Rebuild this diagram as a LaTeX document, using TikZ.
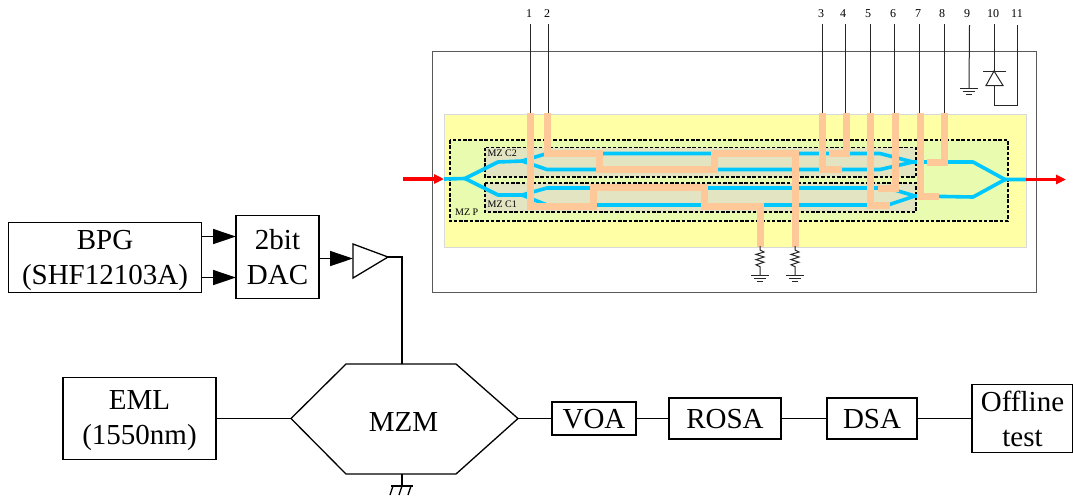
\documentclass[tikz,border=0pt]{standalone}
\usepackage{fontspec}
\setmainfont{Liberation Serif}
\usetikzlibrary{arrows.meta}
\definecolor{wgblue}{HTML}{00C8FF}
\definecolor{elec}{HTML}{FFC899}
\definecolor{chipy}{HTML}{FFFFA6}
\definecolor{mzp}{HTML}{E9FBAF}
\definecolor{mzc}{HTML}{E3E4C2}
\tikzset{
  blockbox/.style={draw=black,line width=1.3pt,fill=white,inner sep=0pt,align=center,font=\fontsize{29}{35}\selectfont},
  wire/.style={draw=black,line width=1.3pt},
  feed/.style={-{Triangle[length=23pt,width=15pt]},line width=1.3pt},
  guide/.style={draw=wgblue,line width=3.6pt,line join=round},
  electrode/.style={draw=elec,line width=7pt,line join=miter},
  pin/.style={draw=black!85,line width=1pt},
  pinlabel/.style={font=\fontsize{12}{14}\selectfont,inner sep=0pt},
  dashedbox/.style={draw=black,line width=1.2pt,dash pattern=on 3.5pt off 1.8pt},
  tag/.style={font=\fontsize{10}{12}\selectfont,inner sep=0pt,anchor=west}
}
\newcommand{\dn}[2]{\raisebox{-#1pt}[\height][\depth]{#2}}
\newcommand{\gnd}[1]{%
  \draw[pin] ([xshift=-9pt]#1) -- ([xshift=9pt]#1);
  \draw[pin] ([xshift=-6pt,yshift=-3pt]#1) -- ([xshift=6pt,yshift=-3pt]#1);
  \draw[pin] ([xshift=-3pt,yshift=-6pt]#1) -- ([xshift=3pt,yshift=-6pt]#1);}
\newcommand{\rgnd}[2]{%
  \coordinate (r#1) at (#2,-250);
  \coordinate (g#1) at (#2,-275);
  \draw[pin] (#2,-246) -- (r#1) -- ++(4,-2) -- ++(-8,-2.4) -- ++(8,-2.6) -- ++(-8,-2.6) -- ++(8,-2.6) -- ++(-8,-2.6) -- ++(4,-2) -- (g#1);
  \gnd{g#1}}
\begin{document}
\begin{tikzpicture}[x=1pt,y=1pt]
\useasboundingbox (0,0) rectangle (1073,-496);
% chip
\draw[draw=black!65,line width=1pt] (432,-51) rectangle (1036,-292);
\draw[draw=black!15,fill=chipy,line width=1pt] (444,-114) rectangle (1026,-247);
\draw[dashedbox,fill=mzp] (450,-140) rectangle (1008,-221);
\draw[dashedbox,fill=mzc] (485,-147.5) rectangle (916,-177);
\draw[dashedbox,fill=mzc] (485,-183) rectangle (916,-212);
\node[tag] (c2) at (487.5,-153) {MZ C2};
\node[tag] (c1) at (487.5,-204) {MZ C1};
\node[tag] (pp) at (455,-212.5) {MZ P};
% waveguides
\draw[guide] (444,-179) -- (465,-178.5) -- (498,-162) -- (522,-161);
\draw[guide] (465,-178.5) -- (498,-195) -- (522,-195);
\draw[guide] (522,-161) -- (547,-153.5) -- (880,-153.5) -- (913,-162);
\draw[guide] (522,-161) -- (547,-169.5) -- (880,-169.5) -- (913,-162);
\draw[guide] (522,-195) -- (547,-188) -- (888,-188) -- (915,-196);
\draw[guide] (522,-195) -- (547,-205) -- (888,-205) -- (915,-196);
\draw[guide] (913,-162) -- (973,-162) -- (1005,-179.5) -- (1026,-179.5);
\draw[guide] (915,-196) -- (973,-197) -- (1005,-179.5);
% electrodes
\draw[electrode] (530,-113) -- (530,-206) -- (593,-206) -- (593,-187) -- (704,-187) -- (704,-206) -- (760,-206) -- (760,-247);
\draw[electrode] (547,-113) -- (547,-153) -- (599,-153) -- (599,-169) -- (714,-169) -- (714,-153) -- (795,-153) -- (795,-247);
\draw[electrode] (822,-113) -- (822,-169) -- (842,-169);
\draw[electrode] (846,-113) -- (846,-153) -- (829,-153);
\draw[electrode] (870,-113) -- (870,-205) -- (890,-205);
\draw[electrode] (895,-113) -- (895,-188) -- (878,-188);
\draw[electrode] (920,-113) -- (920,-196) -- (939,-196);
\draw[electrode] (944,-113) -- (944,-162) -- (927,-162);
% optical arrows
\coordinate (inA) at (403,-179);
\coordinate (inB) at (444,-179);
\coordinate (outA) at (1026,-179.5);
\coordinate (outB) at (1066,-179.5);
\draw[red,line width=3.5pt,-{Triangle[length=10pt,width=9pt]}] (inA) -- (inB);
\draw[red,line width=3.5pt,-{Triangle[length=10pt,width=9pt]}] (outA) -- (outB);
% pins
\foreach \n/\lx/\px in {1/529/530.5,2/547/548,3/821/822,4/843/845.5,5/868/870.5,6/893/894.5,7/918/919,8/942/944}{
  \node[pinlabel] (p\n) at (\lx,-14) {\n};
  \coordinate (q\n) at (\px,-113);
  \draw[pin] (\px,-24) -- (q\n);
}
\node[pinlabel] (p9) at (967,-14) {9};
\node[pinlabel] (p10) at (993,-14) {10};
\node[pinlabel] (p11) at (1017,-14) {11};
\coordinate (g9) at (969,-88);
\draw[pin] (969.5,-25) -- (g9);
\gnd{g9}
\coordinate (dtop) at (994,-71);
\coordinate (dbot) at (994,-85.5);
\draw[pin] (994,-24) -- (dtop);
\draw[pin] (983,-71) -- (1006,-71);
\draw[pin] (dtop) -- (1003,-85.5) -- (986,-85.5) -- cycle;
\draw[pin] (dbot) |- (1017,-105) -- (1017,-25);
\rgnd{a}{760}
\rgnd{b}{795}
% blocks
\node[blockbox,minimum width=193pt,minimum height=70pt] (bpg) at (105,-257.5) {\dn{3}{BPG}\\\dn{3}{(SHF12103A)}};
\node[blockbox,minimum width=83pt,minimum height=83pt] (dac) at (277.5,-257) {2bit\\DAC};
\node[blockbox,minimum width=153pt,minimum height=82pt] (eml) at (139.5,-418.5) {\dn{2}{EML}\\\dn{2}{(1550nm)}};
\node[blockbox,minimum width=84pt,minimum height=33pt] (voa) at (594,-418.5) {\dn{1}{VOA}};
\node[blockbox,minimum width=112pt,minimum height=41pt] (rosa) at (725,-418.5) {\dn{1}{ROSA}};
\node[blockbox,minimum width=90pt,minimum height=41pt] (dsa) at (872,-418.5) {\dn{1}{DSA}};
\node[blockbox,minimum width=101pt,minimum height=68pt] (off) at (1022.5,-418.5) {Offline\\test};
\coordinate (a1) at (236,-236.5);
\coordinate (a2) at (236,-277.5);
\draw[feed] (bpg.east |- a1) -- (a1);
\draw[feed] (bpg.east |- a2) -- (a2);
% amplifier
\coordinate (ampin) at (353,-258.5);
\coordinate (amptip) at (388,-257);
\draw[wire,fill=white] (353,-244) -- (amptip) -- (353,-278) -- cycle;
\draw[feed] (dac.east |- ampin) -- (ampin);
% MZM
\coordinate (hl) at (291,-418.5);
\coordinate (hr) at (518,-418.5);
\coordinate (ht) at (402,-364);
\coordinate (hb) at (402,-474);
\draw[wire,line join=miter] (hl) -- (346,-364) -- (456,-364) -- (hr) -- (456,-474) -- (346,-474) -- cycle;
\node[font=\fontsize{29}{35}\selectfont,inner sep=0pt] (mzm) at (403.5,-422) {MZM};
\draw[wire] (amptip) -| (ht);
\draw[wire] (eml.east) -- (hl);
\draw[wire] (hr) -- (voa.west);
\draw[wire] (voa.east) -- (rosa.west);
\draw[wire] (rosa.east) -- (dsa.west);
\draw[wire] (dsa.east) -- (off.west);
\coordinate (eg) at (402,-486);
\draw[wire] (hb) -- (eg);
\draw[wire] (391,-486) -- (413,-486);
\draw[wire] (393,-486) -- (390,-495);
\draw[wire] (402,-486) -- (399,-495);
\draw[wire] (411,-486) -- (408,-495);
\end{tikzpicture}
\end{document}
